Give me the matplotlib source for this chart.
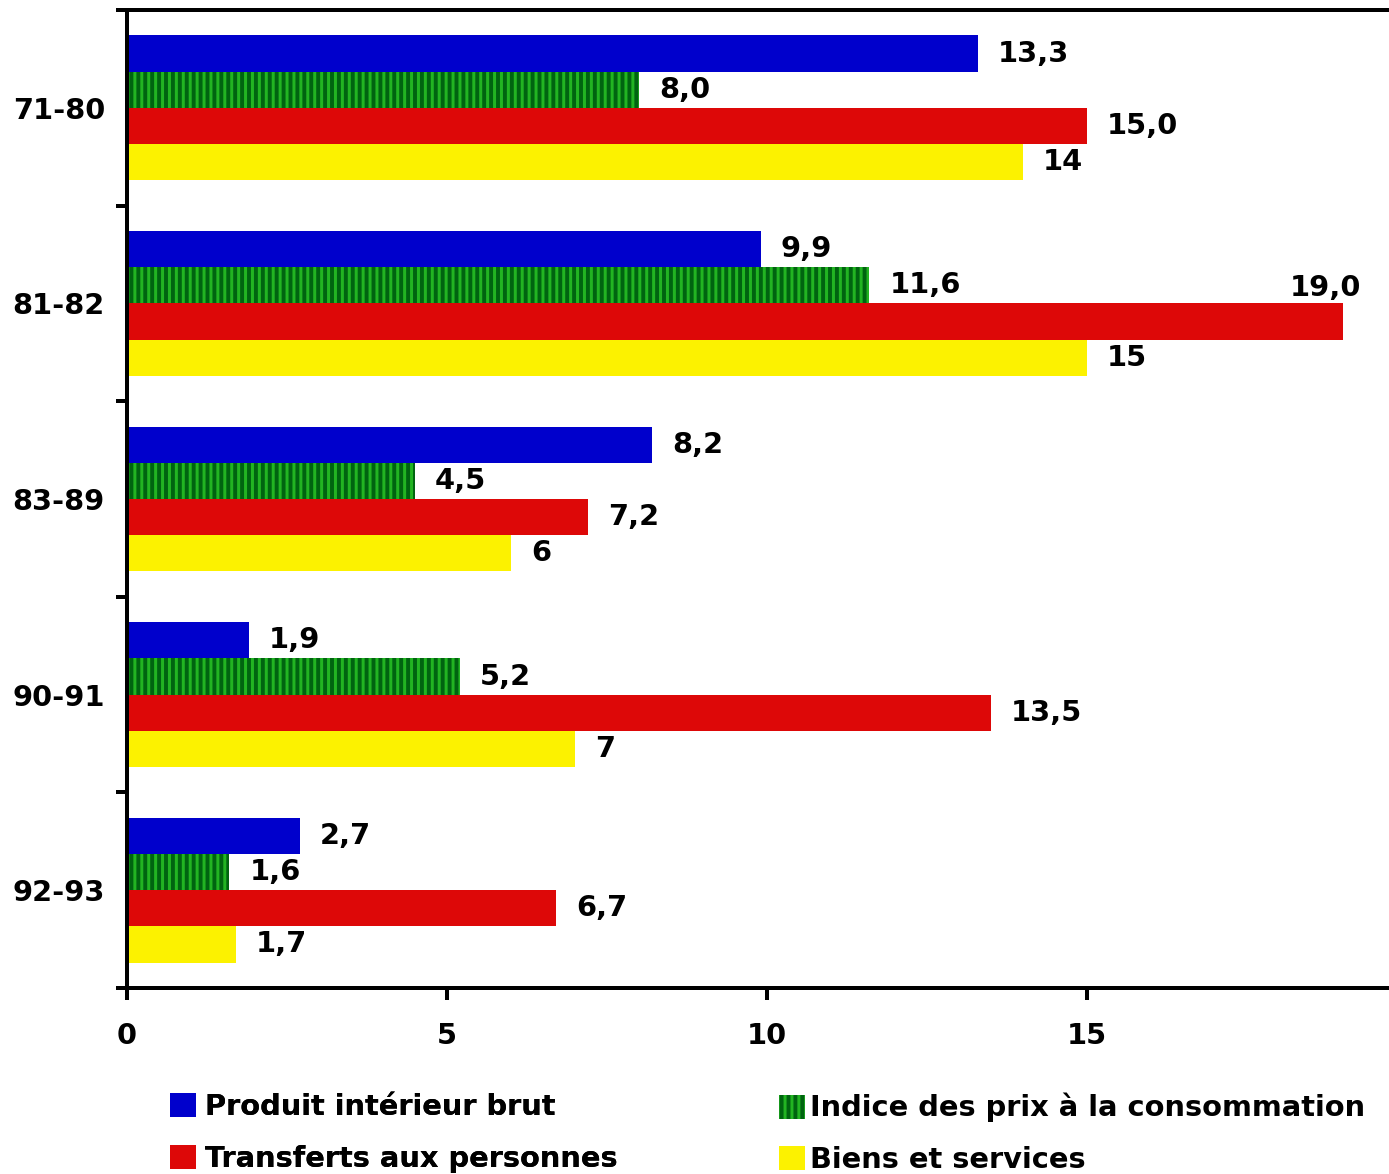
import matplotlib
matplotlib.use("Agg")
import matplotlib.pyplot as plt
import numpy as np

# Average annual growth (%) by period
periods = ["71-80", "81-82", "83-89", "90-91", "92-93"]
pib = [13.3, 9.9, 8.2, 1.9, 2.7]
ipc = [8.0, 11.6, 4.5, 5.2, 1.6]
transferts = [15.0, 19.0, 7.2, 13.5, 6.7]
biens = [14, 15, 6, 7, 1.7]
series_names = [
    "Produit intérieur brut",
    "Indice des prix à la consommation",
    "Transferts aux personnes",
    "Biens et services",
]
x_ticks = [0, 5, 10, 15, 20]

DPI = 83
W, H = 1389, 1174
FS = 25


def px(v):
    """pixels -> points"""
    return v * 72.0 / DPI


plt.rcParams.update({
    "font.family": ["DejaVu Sans"],
    "font.weight": "bold",
    "font.size": FS,
    "hatch.linewidth": px(3),
})

fig = plt.figure(figsize=(W / DPI, H / DPI), dpi=DPI)
ax = fig.add_axes([127 / W, 1 - 988 / H, 1280 / W, 978 / H])

facecolors = ["#0000cc", "#006410", "#dd0808", "#fcf200"]
stripe_green = "#22b422"
bar_h = 0.185
slot = [-1.5, -0.5, 0.5, 1.5]
y = np.arange(len(periods))
data = [pib, ipc, transferts, biens]
one_decimal = [True, True, True, False]

handles = []
for i, vals in enumerate(data):
    kw = dict(facecolor=facecolors[i], linewidth=0)
    if i == 1:
        kw.update(hatch="||", edgecolor=stripe_green)
    else:
        kw.update(edgecolor=facecolors[i])
    bars = ax.barh(y + slot[i] * bar_h, vals, height=bar_h,
                   label=series_names[i], zorder=2, **kw)
    handles.append(bars)

    for yy, v in zip(y + slot[i] * bar_h, vals):
        txt = (f"{v:.1f}" if one_decimal[i] else f"{v:g}").replace(".", ",")
        if v > 18:
            ax.annotate(txt, (v, yy), xytext=(18, 33), textcoords="offset pixels",
                        ha="right", va="center", fontsize=FS, zorder=4)
        else:
            ax.annotate(txt, (v, yy), xytext=(20, 0), textcoords="offset pixels",
                        ha="left", va="center", fontsize=FS, zorder=4)

ax.set_xlim(0, 20)
ax.set_xticks(x_ticks, [str(t) for t in x_ticks])
ax.set_ylim(len(periods) - 0.5, -0.5)
ax.set_yticks(y, periods)
ax.set_yticks(np.arange(len(periods) + 1) - 0.5, minor=True)

lw = px(4)
ax.tick_params(axis="y", which="major", length=0, pad=px(22), labelsize=FS)
ax.tick_params(axis="y", which="minor", length=px(11), width=lw, direction="out")
ax.tick_params(axis="x", which="major", length=px(12), width=lw, direction="out",
               pad=px(22), labelsize=FS)
ax.spines["right"].set_visible(False)
for s in ["left", "top", "bottom"]:
    ax.spines[s].set_linewidth(lw)
    ax.spines[s].set_zorder(3)

fs = FS * DPI / 72.0  # font size in pixels
common = dict(frameon=False, fontsize=FS, borderpad=0, borderaxespad=0,
              handlelength=26 / fs, handleheight=26 / fs, labelspacing=0.82)
leg1 = fig.legend([handles[0], handles[2]], [series_names[0], series_names[2]],
                  loc="upper left", bbox_to_anchor=(170 / W, 1 - 1093 / H),
                  handletextpad=9 / fs, **common)
fig.add_artist(leg1)
fig.legend([handles[1], handles[3]], [series_names[1], series_names[3]],
           loc="upper left", bbox_to_anchor=(779 / W, 1 - 1093 / H),
           handletextpad=5 / fs, **common)

fig.savefig("out.png", dpi=DPI)
